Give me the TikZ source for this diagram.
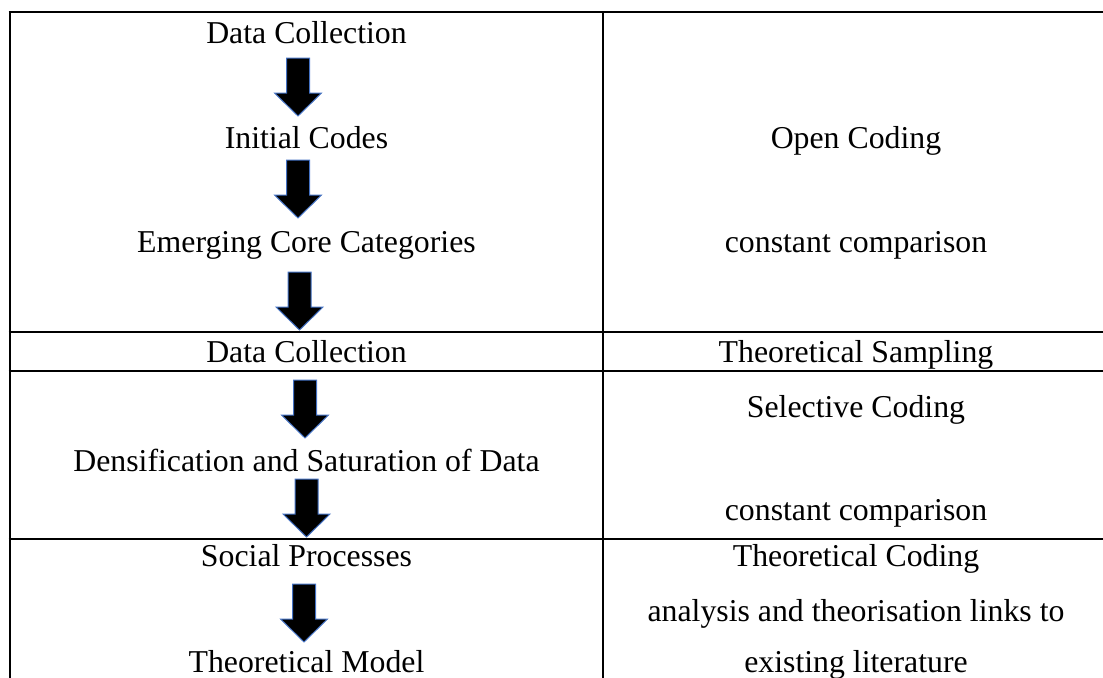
\documentclass[tikz,border=0pt]{standalone}
\usepackage{fontspec}
\setmainfont{Liberation Serif}
\usetikzlibrary{calc}
\definecolor{arrowblue}{HTML}{4472C4}

\begin{document}
\begin{tikzpicture}[x=0.5pt,y=-0.5pt,line join=miter,
  rule/.style={line width=1.3pt},
  cell/.style={anchor=base,inner sep=0pt,font=\fontsize{15.9}{19}\selectfont},
  blockarrow/.style={fill=black,draw=arrowblue,line width=0.5pt}]
  \useasboundingbox (0,0) rectangle (1103,677);
  % table rules
  \coordinate (L0) at (10,12);
  \coordinate (L1) at (10,332);
  \coordinate (L2) at (10,371);
  \coordinate (L3) at (10,539);
  \coordinate (LB) at (10,680);
  \coordinate (M0) at (603,12);
  \coordinate (MB) at (603,680);
  \foreach \r in {L0,L1,L2,L3}
    \draw[rule] ($(\r)+(-1.3,0)$) -- ($(\r)+(1100,0)$);
  \draw[rule] (L0) -- (LB);
  \draw[rule] (M0) -- (MB);
  % left column
  \node[cell] (dc1) at (306.5,43) {Data Collection};
  \node[cell] (ic) at (306.5,148) {Initial Codes};
  \node[cell] (ecc) at (306.5,252) {Emerging Core Categories};
  \node[cell] (dc2) at (306.5,362) {Data Collection};
  \node[cell] (dsd) at (306.5,471) {Densification and Saturation of Data};
  \node[cell] (sp) at (306.5,566) {Social Processes};
  \node[cell] (tm) at (306.5,672) {Theoretical Model};
  % right column
  \node[cell] (oc) at (856,148) {Open Coding};
  \node[cell] (cc1) at (856,252) {constant comparison};
  \node[cell] (ts) at (856,362) {Theoretical Sampling};
  \node[cell] (sc) at (856,417) {Selective Coding};
  \node[cell] (cc2) at (856,520) {constant comparison};
  \node[cell] (tc) at (856,566) {Theoretical Coding};
  \node[cell] (atl) at (856,621) {analysis and theorisation links to};
  \node[cell] (el) at (856,672) {existing literature};
  % block arrows (top centre)
  \coordinate (A1) at (298,58);
  \coordinate (A2) at (298,160);
  \coordinate (A3) at (299.5,272);
  \coordinate (A4) at (305,380);
  \coordinate (A5) at (306.5,479);
  \coordinate (A6) at (304,584);
  \foreach \a in {A1,A2,A3,A4,A5,A6}
    \draw[blockarrow] (\a) ++(-11.5,0) -- ++(23,0) -- ++(0,35) -- ++(12,0)
      -- ++(-23.5,23) -- ++(-23.5,-23) -- ++(12,0) -- cycle;
\end{tikzpicture}
\end{document}
